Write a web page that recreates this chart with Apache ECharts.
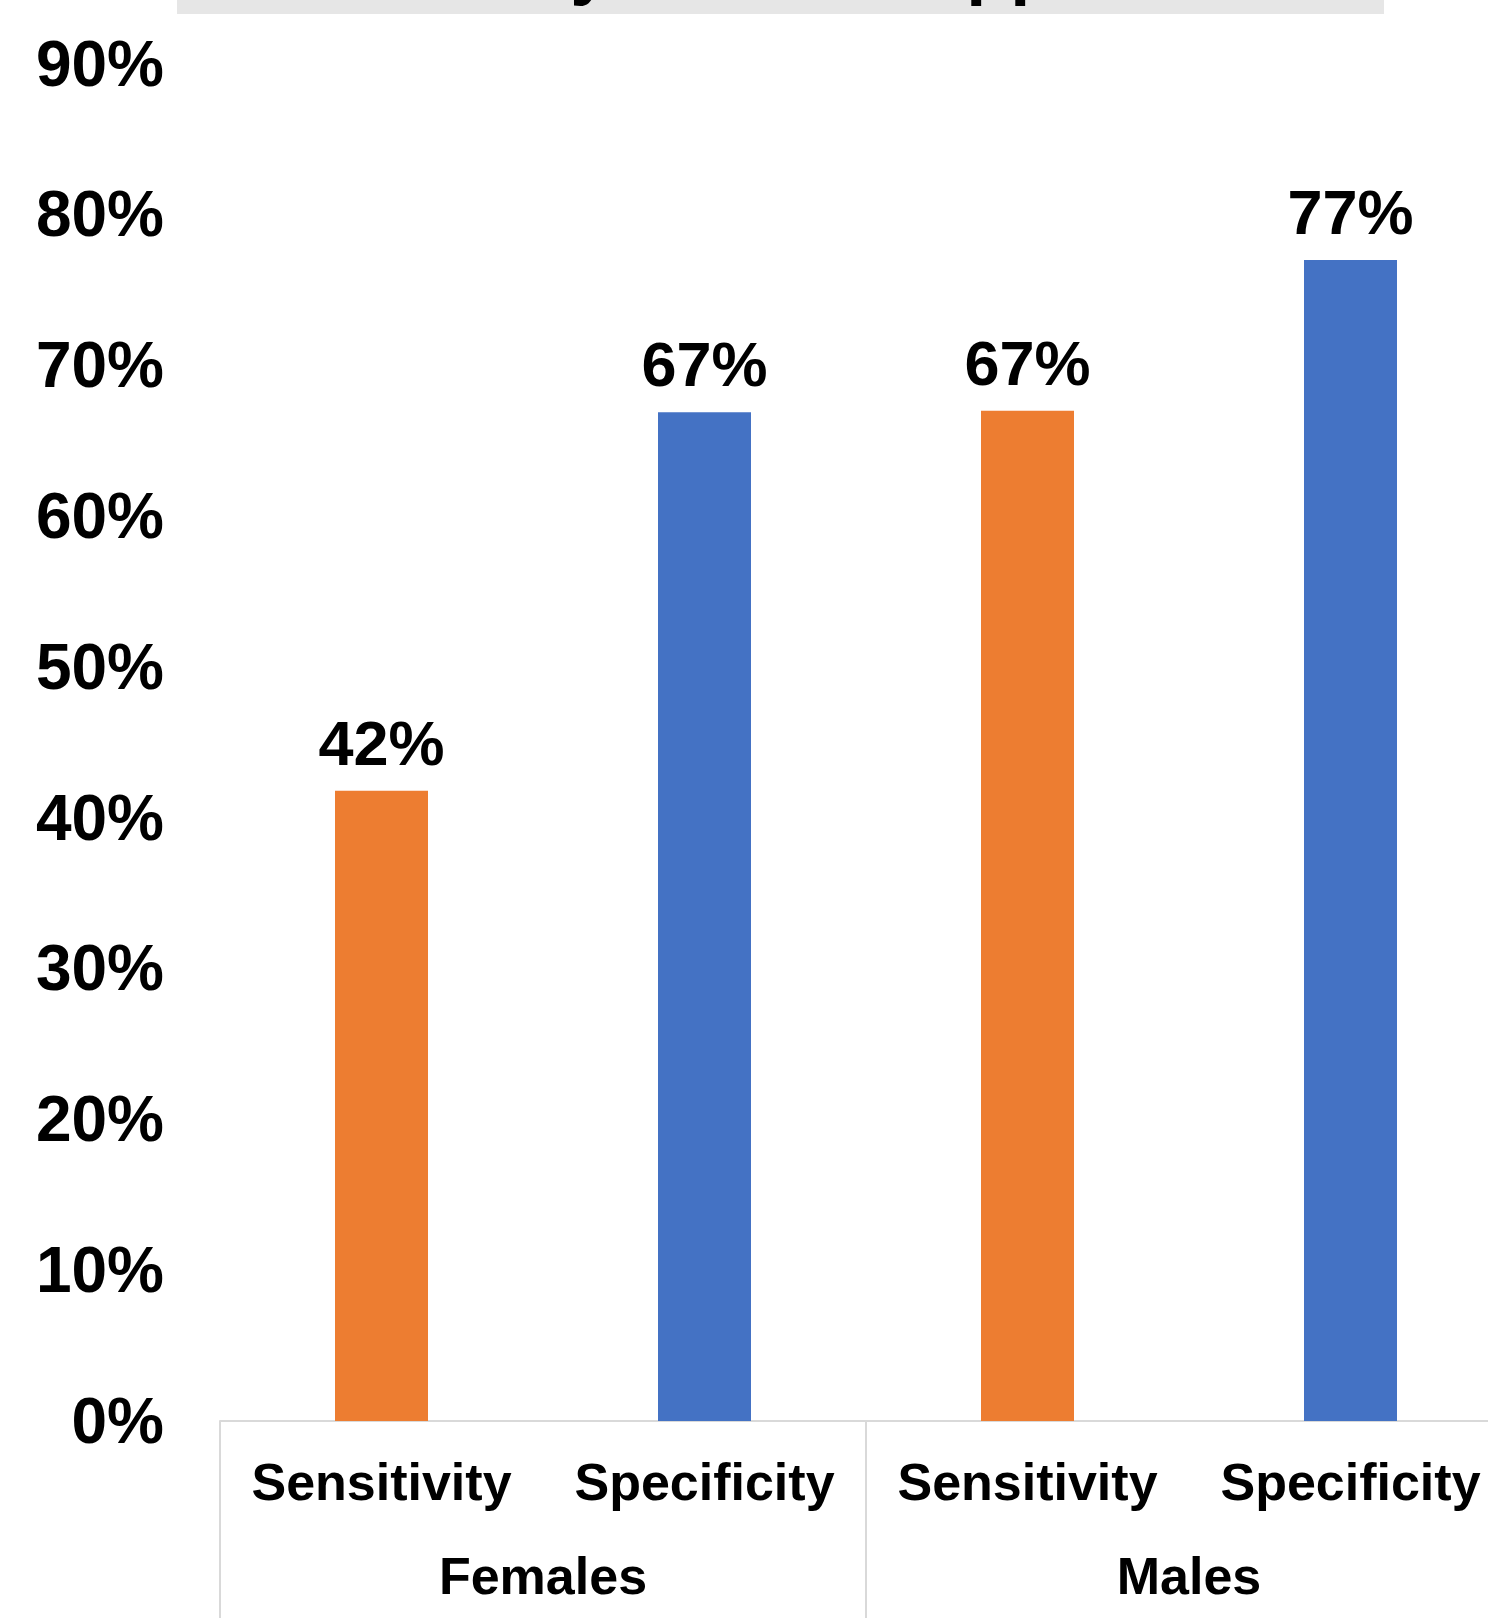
<!DOCTYPE html>
<html>
<head>
<meta charset="utf-8">
<title>Sensitivity / Specificity</title>
<script src="https://cdn.jsdelivr.net/npm/echarts@6/dist/echarts.min.js"></script>
<style>
	html, body { margin: 0; padding: 0; background: #fff; overflow: hidden; }
	/* plot runs past the right edge of the window, like the cropped original */
	#chart { width: 1512px; height: 1618px; }
</style>
</head>
<body>
<div id="chart"></div>
<script>
var measures = ['Sensitivity', 'Specificity', 'Sensitivity', 'Specificity'];
var groups = ['Females', 'Males'];
var values = [0.418, 0.669, 0.670, 0.770];
var yTicks = [0, 0.1, 0.2, 0.3, 0.4, 0.5, 0.6, 0.7, 0.8, 0.9];
var titleText = 'Accuracy of an AI App';

var ORANGE = '#ED7D31';
var BLUE = '#4472C4';
var GRID_LINE = '#D9D9D9';
var FONT = '"Liberation Sans", Arial, sans-serif';

function pct(v) {
	return Math.round(v * 100) + '%';
}

var chart = echarts.init(document.getElementById('chart'));

var option = {
	animation: false,
	backgroundColor: '#fff',
	textStyle: { fontFamily: FONT },
	graphic: [
		{
			type: 'rect',
			shape: { x: 177, y: 0, width: 1207, height: 14 },
			style: { fill: '#E6E6E6' },
			z: 1
		},
		{
			// title sits above the top edge, only descenders show
			type: 'text',
			x: 286,
			y: -29,
			style: {
				text: titleText,
				fill: '#000',
				font: 'bold 72px ' + FONT,
				align: 'left',
				verticalAlign: 'middle'
			},
			z: 2
		}
	],
	grid: {
		left: 220,
		right: 0,
		top: 64,
		bottom: 197
	},
	xAxis: [
		{
			type: 'category',
			data: measures,
			position: 'bottom',
			axisLine: { show: true, lineStyle: { color: GRID_LINE, width: 2 } },
			axisTick: { show: false },
			axisLabel: {
				interval: 0,
				margin: 39,
				color: '#000',
				fontSize: 52,
				fontWeight: 'bold',
				fontFamily: FONT
			}
		},
		{
			type: 'category',
			data: groups,
			position: 'bottom',
			axisLine: { show: false },
			axisTick: {
				show: true,
				interval: 0,
				length: 200,
				lineStyle: { color: GRID_LINE, width: 2 }
			},
			axisLabel: {
				interval: 0,
				margin: 133,
				color: '#000',
				fontSize: 52,
				fontWeight: 'bold',
				fontFamily: FONT
			}
		}
	],
	yAxis: {
		type: 'value',
		min: yTicks[0],
		max: yTicks[yTicks.length - 1],
		interval: 0.1,
		axisLine: { show: false },
		axisTick: { show: false },
		splitLine: { show: false },
		axisLabel: {
			margin: 56,
			formatter: function (v) { return '{v|' + pct(v) + '}'; },
			rich: {
				v: {
					color: '#000',
					fontSize: 64,
					fontWeight: 'bold',
					fontFamily: FONT,
					padding: [8, 0, 0, 0]
				}
			}
		}
	},
	series: [
		{
			type: 'bar',
			xAxisIndex: 0,
			barWidth: 93,
			data: values,
			itemStyle: {
				color: function (p) {
					return p.dataIndex % 2 === 0 ? ORANGE : BLUE;
				}
			},
			label: {
				show: true,
				position: 'top',
				distance: 12,
				color: '#000',
				fontSize: 63,
				fontWeight: 'bold',
				fontFamily: FONT,
				formatter: function (p) { return pct(p.value); }
			}
		}
	]
};

chart.setOption(option);
</script>
</body>
</html>
